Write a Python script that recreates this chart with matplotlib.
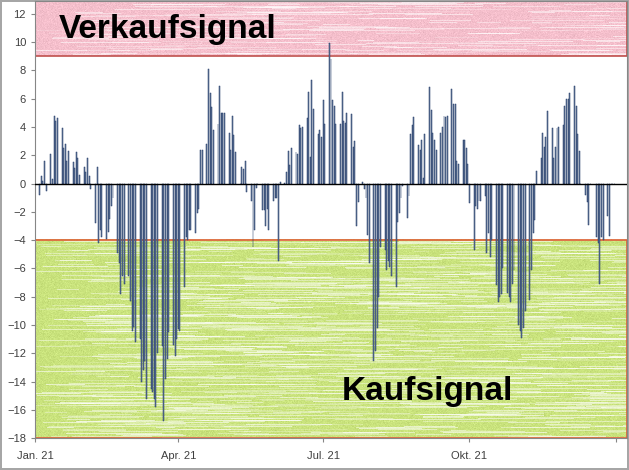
import matplotlib.pyplot as plt
import matplotlib.dates as mdates
from matplotlib.patches import Rectangle
import numpy as np
import pandas as pd

# Data: daily signal value per trading day, 2021
q1_values = [-3.6,
             -0.8, 0.5, 0.2, 1.6, -0.5,
             2.1, 0.35, 4.8, 4.4, 4.6,
             3.9, 2.5, 2.8, 1.6, 2.3,
             1.5, 1.1, 2.2, 1.8, 0.6,
             1.2, 0.8, 1.8, 0.5, -0.35,
             -2.8, 1.2, -4.2, -3.3, -3.8,
             -3.9, -3.4, -2.5, -1.6, -1.0,
             -4.9, -5.6, -7.8, -6.5, -7.1,
             -6.5, -8.3, -10.4, -10.1, -11.2,
             -11.0, -14.0, -13.2, -12.5, -15.2,
             -14.5, -14.7, -15.2, -15.8, -12.0,
             -11.5, -16.8, -13.8, -12.4, -10.5,
             -11.4, -12.2, -11.0, -10.3, -10.4]
q2_values = [-7.3, -3.8, -4.0, -3.3, -3.3,
             -3.5, -2.1, -1.8, 2.4, 2.4,
             2.8, 8.1, 6.4, 5.4, 3.8,
             4.2, 6.9, 5.0, 5.0, 5.0,
             3.6, 2.4, 4.8, 3.4, 2.2,
             0.0, 1.2, 1.0, 1.6, -0.6,
             -1.2, -4.5, -3.3, -0.3, 0.0,
             -1.9, -1.9, -3.0, -1.8, -3.3,
             -1.2, -1.0, -1.0, -5.5, 0.1,
             0.05, 0.8, 2.3, 1.3, 2.5,
             2.2, 2.1, 4.1, 3.9, 4.0,
             4.6, 6.5, 1.9, 7.3, 5.3,
             3.5, 3.8, 3.3, 5.9, 4.2]
q3_values = [9.9, 8.8, 5.9, 5.5, 4.2,
             4.2, 6.5, 4.4, 4.3, 5.0,
             4.9, 2.6, 3.0, -3.0, -1.3,
             0.1, -0.4, -1.0, -3.6, -5.6,
             -12.5, -11.8, -10.2, -8.0, -4.5,
             -4.7, -6.1, -5.5, -5.9, -6.5,
             -7.3, -2.7, -2.1, -1.0, -0.2,
             -2.4, -0.9, 3.5, 4.1, 4.7,
             2.7, 2.4, 3.1, 0.4, 3.5,
             6.8, 5.2, 3.6, 3.1, 2.4,
             3.6, 4.0, 4.8, 4.7, 4.8,
             6.7, 5.6, 5.6, 1.6, 1.4,
             3.1, 3.1, 2.5, 1.4, -1.4]
q4_values = [-4.7, -1.6, -1.8, -1.2, -1.2,
             -0.9, -4.9, -3.5, -5.2, -4.0,
             -7.2, -8.4, -8.0, -7.8, -6.0,
             -7.7, -8.0, -8.4, -7.1, -6.1,
             -10.0, -10.4, -10.9, -10.2, -9.0,
             -8.2, -6.1, -3.5, -2.6, 0.9,
             1.8, 3.6, 2.6, 3.3, 5.1,
             3.9, 1.8, 2.6, 3.9, 4.0,
             4.1, 5.5, 6.0, 6.0, 6.4,
             6.9, 5.5, 3.5, 2.3, 0.0,
             -0.8, -1.3, -2.9, 0.0, 0.0,
             -3.8, -4.2, -7.1, -3.8, -4.0,
             -2.3, -3.7, 0.0, 0.0, 0.0]

dates = pd.bdate_range("2021-01-01", "2021-12-31")
values = np.array(q1_values + q2_values + q3_values + q4_values)
assert len(values) == len(dates)

sell_level = 9
buy_level = -4
tick_dates = ["2021-01-01", "2021-04-01", "2021-07-01", "2021-10-01", "2022-01-01"]
tick_labels = ["Jan. 21", "Apr. 21", "Jul. 21", "Okt. 21", ""]

y_min, y_max = -18, 12.9
x_min = mdates.date2num(pd.Timestamp("2021-01-01"))
x_max = mdates.date2num(pd.Timestamp("2022-01-08"))


def streak_texture(base, rows, cols, seed, n_streaks):
    """Crumpled-paper look: base colour with light horizontal streaks."""
    rng = np.random.default_rng(seed)
    img = np.ones((rows, cols, 3)) * np.array(base)
    img += rng.normal(0, 0.02, (rows, cols, 1))
    for _ in range(n_streaks):
        r = rng.integers(0, rows)
        c = rng.integers(0, cols)
        n = rng.integers(15, 110)
        a = rng.uniform(0.15, 0.6)
        img[r, c:c + n] = img[r, c:c + n] * (1 - a) + a
    return np.clip(img, 0, 1)


fig = plt.figure(figsize=(6.29, 4.70), dpi=100)
fig.patch.set_edgecolor("#a6a6a6")
fig.patch.set_linewidth(1.5)
ax = fig.add_axes([35 / 629, 31.6 / 470, 592 / 629, 437.5 / 470])

# signal zones
ax.imshow(streak_texture((0.96, 0.75, 0.80), 56, 592, 3, 220),
          extent=[x_min, x_max, sell_level, y_max], aspect="auto",
          interpolation="nearest", zorder=0)
ax.imshow(streak_texture((0.79, 0.89, 0.49), 198, 592, 5, 1100),
          extent=[x_min, x_max, y_min, buy_level], aspect="auto",
          interpolation="nearest", zorder=0)
ax.add_patch(Rectangle((x_min, sell_level), x_max - x_min, y_max - sell_level,
                       fill=False, edgecolor="#c0504d", lw=1.2, zorder=1))
ax.add_patch(Rectangle((x_min, y_min), x_max - x_min, buy_level - y_min,
                       fill=False, edgecolor="#e0603a", lw=1.2, zorder=1))

ax.bar(dates, values, width=0.6, color="#6f82a3", edgecolor="#1f3864",
       linewidth=0.35, zorder=2)
ax.axhline(0, color="black", lw=1, zorder=3)

ax.text(pd.Timestamp("2021-01-16"), 10.25, "Verkaufsignal", fontsize=24,
        fontweight="bold", family="Liberation Sans", zorder=4)
ax.text(pd.Timestamp("2021-07-13"), -15.3, "Kaufsignal", fontsize=24,
        fontweight="bold", family="Liberation Sans", zorder=4)

ax.set_xlim(x_min, x_max)
ax.set_ylim(y_min, y_max)
ax.set_yticks(range(-18, 13, 2))
ax.set_xticks([pd.Timestamp(d) for d in tick_dates])
ax.set_xticklabels(tick_labels)
ax.tick_params(axis="both", direction="out", length=3, color="#868686",
               labelsize=8, labelcolor="#404040")
ax.tick_params(axis="x", pad=6)
for lbl in ax.get_xticklabels() + ax.get_yticklabels():
    lbl.set_family("Liberation Sans")
for side in ["left", "right", "top", "bottom"]:
    ax.spines[side].set_color("#868686")
    ax.spines[side].set_linewidth(0.8)

fig.savefig("out.png", dpi=100)
